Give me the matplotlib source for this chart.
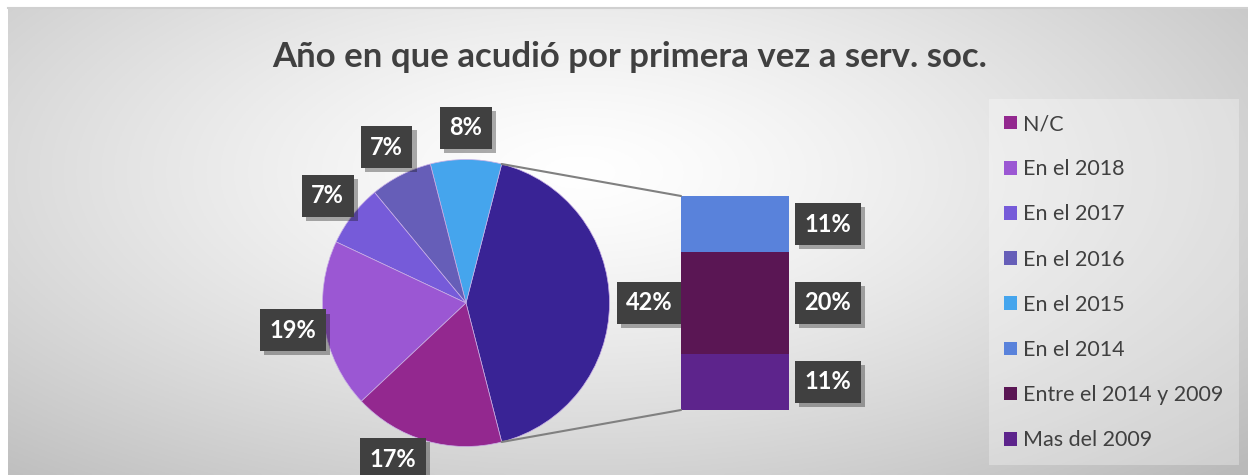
import numpy as np
import matplotlib
matplotlib.use("Agg")
import matplotlib.pyplot as plt
import matplotlib.patheffects as pe
from matplotlib.patches import ConnectionPatch, Patch

plt.rcParams['font.family'] = ['Lato', 'DejaVu Sans']

# data
pie_labels = ['Otros', 'En el 2015', 'En el 2016', 'En el 2017', 'En el 2018', 'N/C']
pie_vals = [42, 8, 7, 7, 19, 17]
pie_colors = ['#392395', '#45a5ed', '#665eb8', '#765bd9', '#9b57d3', '#93288f']

bar_labels = ['Mas del 2009', 'Entre el 2014 y 2009', 'En el 2014']
bar_vals = [11, 20, 11]
bar_colors = ['#5d248c', '#5a1654', '#5982db']

legend_order = ['N/C', 'En el 2018', 'En el 2017', 'En el 2016', 'En el 2015',
                'En el 2014', 'Entre el 2014 y 2009', 'Mas del 2009']

W, H = 1248, 475
fig = plt.figure(figsize=(W / 100, H / 100), dpi=100)
fig.patch.set_facecolor('white')

# background radial gradient
bg = fig.add_axes([8 / W, 0, (W - 8) / W, (H - 8) / H], zorder=-10)
yy, xx = np.mgrid[0:200, 0:500]
xx = xx / 500.0
yy = yy / 200.0
r = np.sqrt(((xx - 0.46) / 0.75) ** 2 + ((yy - 0.35) / 0.9) ** 2)
g = 1.0 - 0.27 * np.clip(r, 0, 1) ** 1.3
bg.imshow(np.dstack([g, g, g]), aspect='auto', extent=[0, 1, 0, 1])
bg.axis('off')
# thin top line
fig.add_artist(plt.Line2D([8 / W, 1], [(H - 8) / H, (H - 8) / H], color='#d0d0d0', lw=1.5))

fig.text(630 / W, (H - 57) / H, 'Año en que acudió por primera vez a serv. soc.',
         ha='center', va='center', fontsize=25, fontweight='bold', color='#404040')

box = dict(boxstyle='square,pad=0.4', fc='#404040', ec='none')
shadow = [pe.SimplePatchShadow(offset=(3, -3), alpha=0.35), pe.Normal()]

# pie
R = 143.5
cx, cy = 466, H - 303
lim = 1.4
side = 2 * lim * R
ax1 = fig.add_axes([(cx - side / 2) / W, (cy - side / 2) / H, side / W, side / H])
wedges, _, autotexts = ax1.pie(pie_vals, colors=pie_colors, startangle=-pie_vals[0] / 100 * 180,
                               counterclock=True, autopct='%1.0f%%', pctdistance=1.22,
                               wedgeprops=dict(linewidth=0.5, edgecolor='#c9b0e6'),
                               textprops=dict(color='white', fontsize=17, fontweight='bold'))
ax1.set_xlim(-lim, lim)
ax1.set_ylim(-lim, lim)
ax1.set_aspect('equal')
ax1.axis('off')
# nudge a few labels like the original
autotexts[0].set_position((1.28, 0))
a = np.radians(245)
autotexts[5].set_position((1.2 * np.cos(a), 1.2 * np.sin(a)))
for t in autotexts:
    t.set_bbox(box)
    t.get_bbox_patch().set_path_effects(shadow)
    t.set_clip_on(False)

# bar
bx0, bx1 = 681, 789
by0, by1 = H - 410, H - 196
ax2 = fig.add_axes([bx0 / W, by0 / H, (bx1 - bx0) / W, (by1 - by0) / H])
bottom = 0
for lab, v, c in zip(bar_labels, bar_vals, bar_colors):
    ax2.bar(0, v, width=1, bottom=bottom, color=c, edgecolor='none')
    t = ax2.annotate('%d%%' % v, xy=(0.5, bottom + v / 2), xytext=(28, 0),
                     textcoords='offset points', ha='center', va='center',
                     color='white', fontsize=17, fontweight='bold', bbox=box)
    t.get_bbox_patch().set_path_effects(shadow)
    bottom += v
ax2.set_xlim(-0.5, 0.5)
ax2.set_ylim(0, sum(bar_vals))
ax2.axis('off')

# connector lines
th1, th2 = wedges[0].theta1, wedges[0].theta2
for th, yb in [(th2, sum(bar_vals)), (th1, 0)]:
    x = np.cos(np.radians(th))
    y = np.sin(np.radians(th))
    con = ConnectionPatch(xyA=(-0.5, yb), coordsA=ax2.transData,
                          xyB=(x, y), coordsB=ax1.transData, color='#808080', lw=1.5)
    fig.add_artist(con)

# legend
color_map = dict(zip(pie_labels, pie_colors))
color_map.update(dict(zip(bar_labels, bar_colors)))
handles = [Patch(facecolor=color_map[l], edgecolor='none') for l in legend_order]
leg = fig.legend(handles, legend_order, loc='upper left', bbox_to_anchor=(989 / W, (H - 99) / H),
                 frameon=True, fancybox=False, fontsize=15.5, labelcolor='#404040',
                 handlelength=0.6, handleheight=0.6, handletextpad=0.3,
                 labelspacing=1.17, borderpad=0.7, borderaxespad=0)
leg.get_frame().set_facecolor('white')
leg.get_frame().set_alpha(0.3)
leg.get_frame().set_edgecolor('none')

fig.savefig('out.png', dpi=100)
